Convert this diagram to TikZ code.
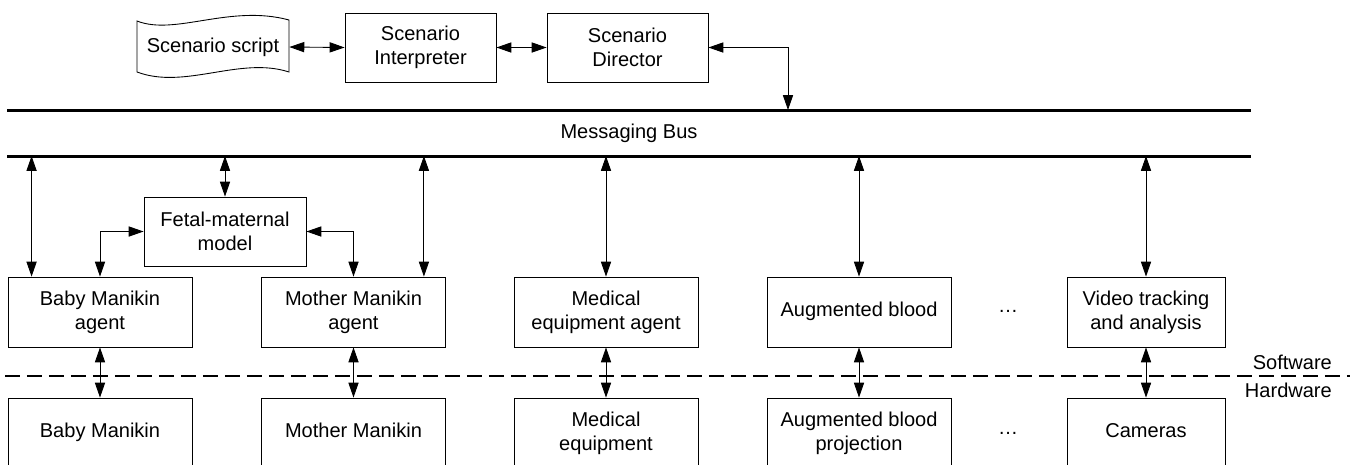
\documentclass[tikz,border=0pt]{standalone}
\usepackage{fontspec}
\setmainfont{Liberation Sans}
\usepackage{tikz}
\usetikzlibrary{arrows.meta}

\begin{document}
\begin{tikzpicture}[x=0.02cm, y=-0.02cm,
  font=\fontsize{11.4pt}{13.6pt}\selectfont,
  box/.style={draw, line width=0.5pt, align=center, minimum height=1.38cm, inner sep=2pt},
  agent/.style={box, minimum width=3.68cm, minimum height=1.4cm},
  link/.style={line width=0.5pt, {Triangle[length=8.5pt,width=5.8pt]}-{Triangle[length=8.5pt,width=5.8pt]}},
  busline/.style={line width=1.7pt},
  split/.style={line width=1.1pt, dash pattern=on 0.3cm off 0.14cm}]
\useasboundingbox (0,0) rectangle (1354,464);

% scenario row
\node[minimum width=3.04cm, minimum height=1.2cm] (script) at (213,47) {Scenario script};
\draw[line width=0.5pt] (137,21) .. controls (175,36) and (230,4) .. (289,20) -- (289,72)
  .. controls (240,56) and (185,90) .. (137,72) -- cycle;
\node[box, minimum width=3.02cm] (interp) at (420.5,47.5) {Scenario\\Interpreter};
\node[box, minimum width=3.22cm] (director) at (627.5,47.5) {Scenario\\Director};
\draw[link] (script.east) -- (interp.west);
\draw[link] (interp.east) -- (director.west);

% messaging bus
\coordinate (busTL) at (7,110);
\coordinate (busTR) at (1251,110);
\coordinate (busBL) at (7,156);
\coordinate (busBR) at (1251,156);
\coordinate (busdir) at (788,110);
\draw[busline] (busTL) -- (busTR);
\draw[busline] (busBL) -- (busBR);
\node (bus) at (629,133) {Messaging Bus};
\draw[link] (director.east) -| (busdir);

% software agents
\node[box, minimum width=3.24cm] (fetal) at (225,231.5) {Fetal-maternal\\model};
\node[agent] (babyA) at (100,312) {Baby Manikin\\agent};
\node[agent] (motherA) at (353.5,312) {Mother Manikin\\agent};
\node[agent] (medA) at (606,312) {Medical\\equipment agent};
\node[agent] (bloodA) at (859,312) {\strut Augmented blood};
\node[agent, minimum width=3.16cm] (videoA) at (1146,312) {Video tracking\\and analysis};
\node (dotsA) at (1008,311) {…};

\draw[link] ([xshift=0.48cm]babyA.north west) -- ([xshift=0.48cm]babyA.north west |- busBL);
\draw[link] (fetal.north) -- (fetal.north |- busBL);
\draw[link] ([xshift=-0.44cm]motherA.north east) -- ([xshift=-0.44cm]motherA.north east |- busBL);
\draw[link] (medA.north) -- (medA.north |- busBL);
\draw[link] (bloodA.north) -- (bloodA.north |- busBL);
\draw[link] (videoA.north) -- (videoA.north |- busBL);
\draw[link] (fetal.west) -| (babyA.north);
\draw[link] (fetal.east) -| (motherA.north);

% software / hardware split
\coordinate (splitL) at (5,376);
\coordinate (splitR) at (1350,376);
\draw[split] (splitL) -- (splitR);
\node[anchor=east] (sw) at (1338,362) {Software};
\node[anchor=east] (hw) at (1338,390) {Hardware};

% hardware
\node[agent] (baby) at (100,433) {\strut Baby Manikin};
\node[agent] (mother) at (353.5,433) {\strut Mother Manikin};
\node[agent] (med) at (606,433) {Medical\\equipment};
\node[agent] (blood) at (859,433) {Augmented blood\\projection};
\node[agent, minimum width=3.16cm] (cams) at (1146,433) {\strut Cameras};
\node (dotsB) at (1008,433) {…};

\draw[link] (babyA.south) -- (baby.north);
\draw[link] (motherA.south) -- (mother.north);
\draw[link] (medA.south) -- (med.north);
\draw[link] (bloodA.south) -- (blood.north);
\draw[link] (videoA.south) -- (cams.north);

\end{tikzpicture}
\end{document}
